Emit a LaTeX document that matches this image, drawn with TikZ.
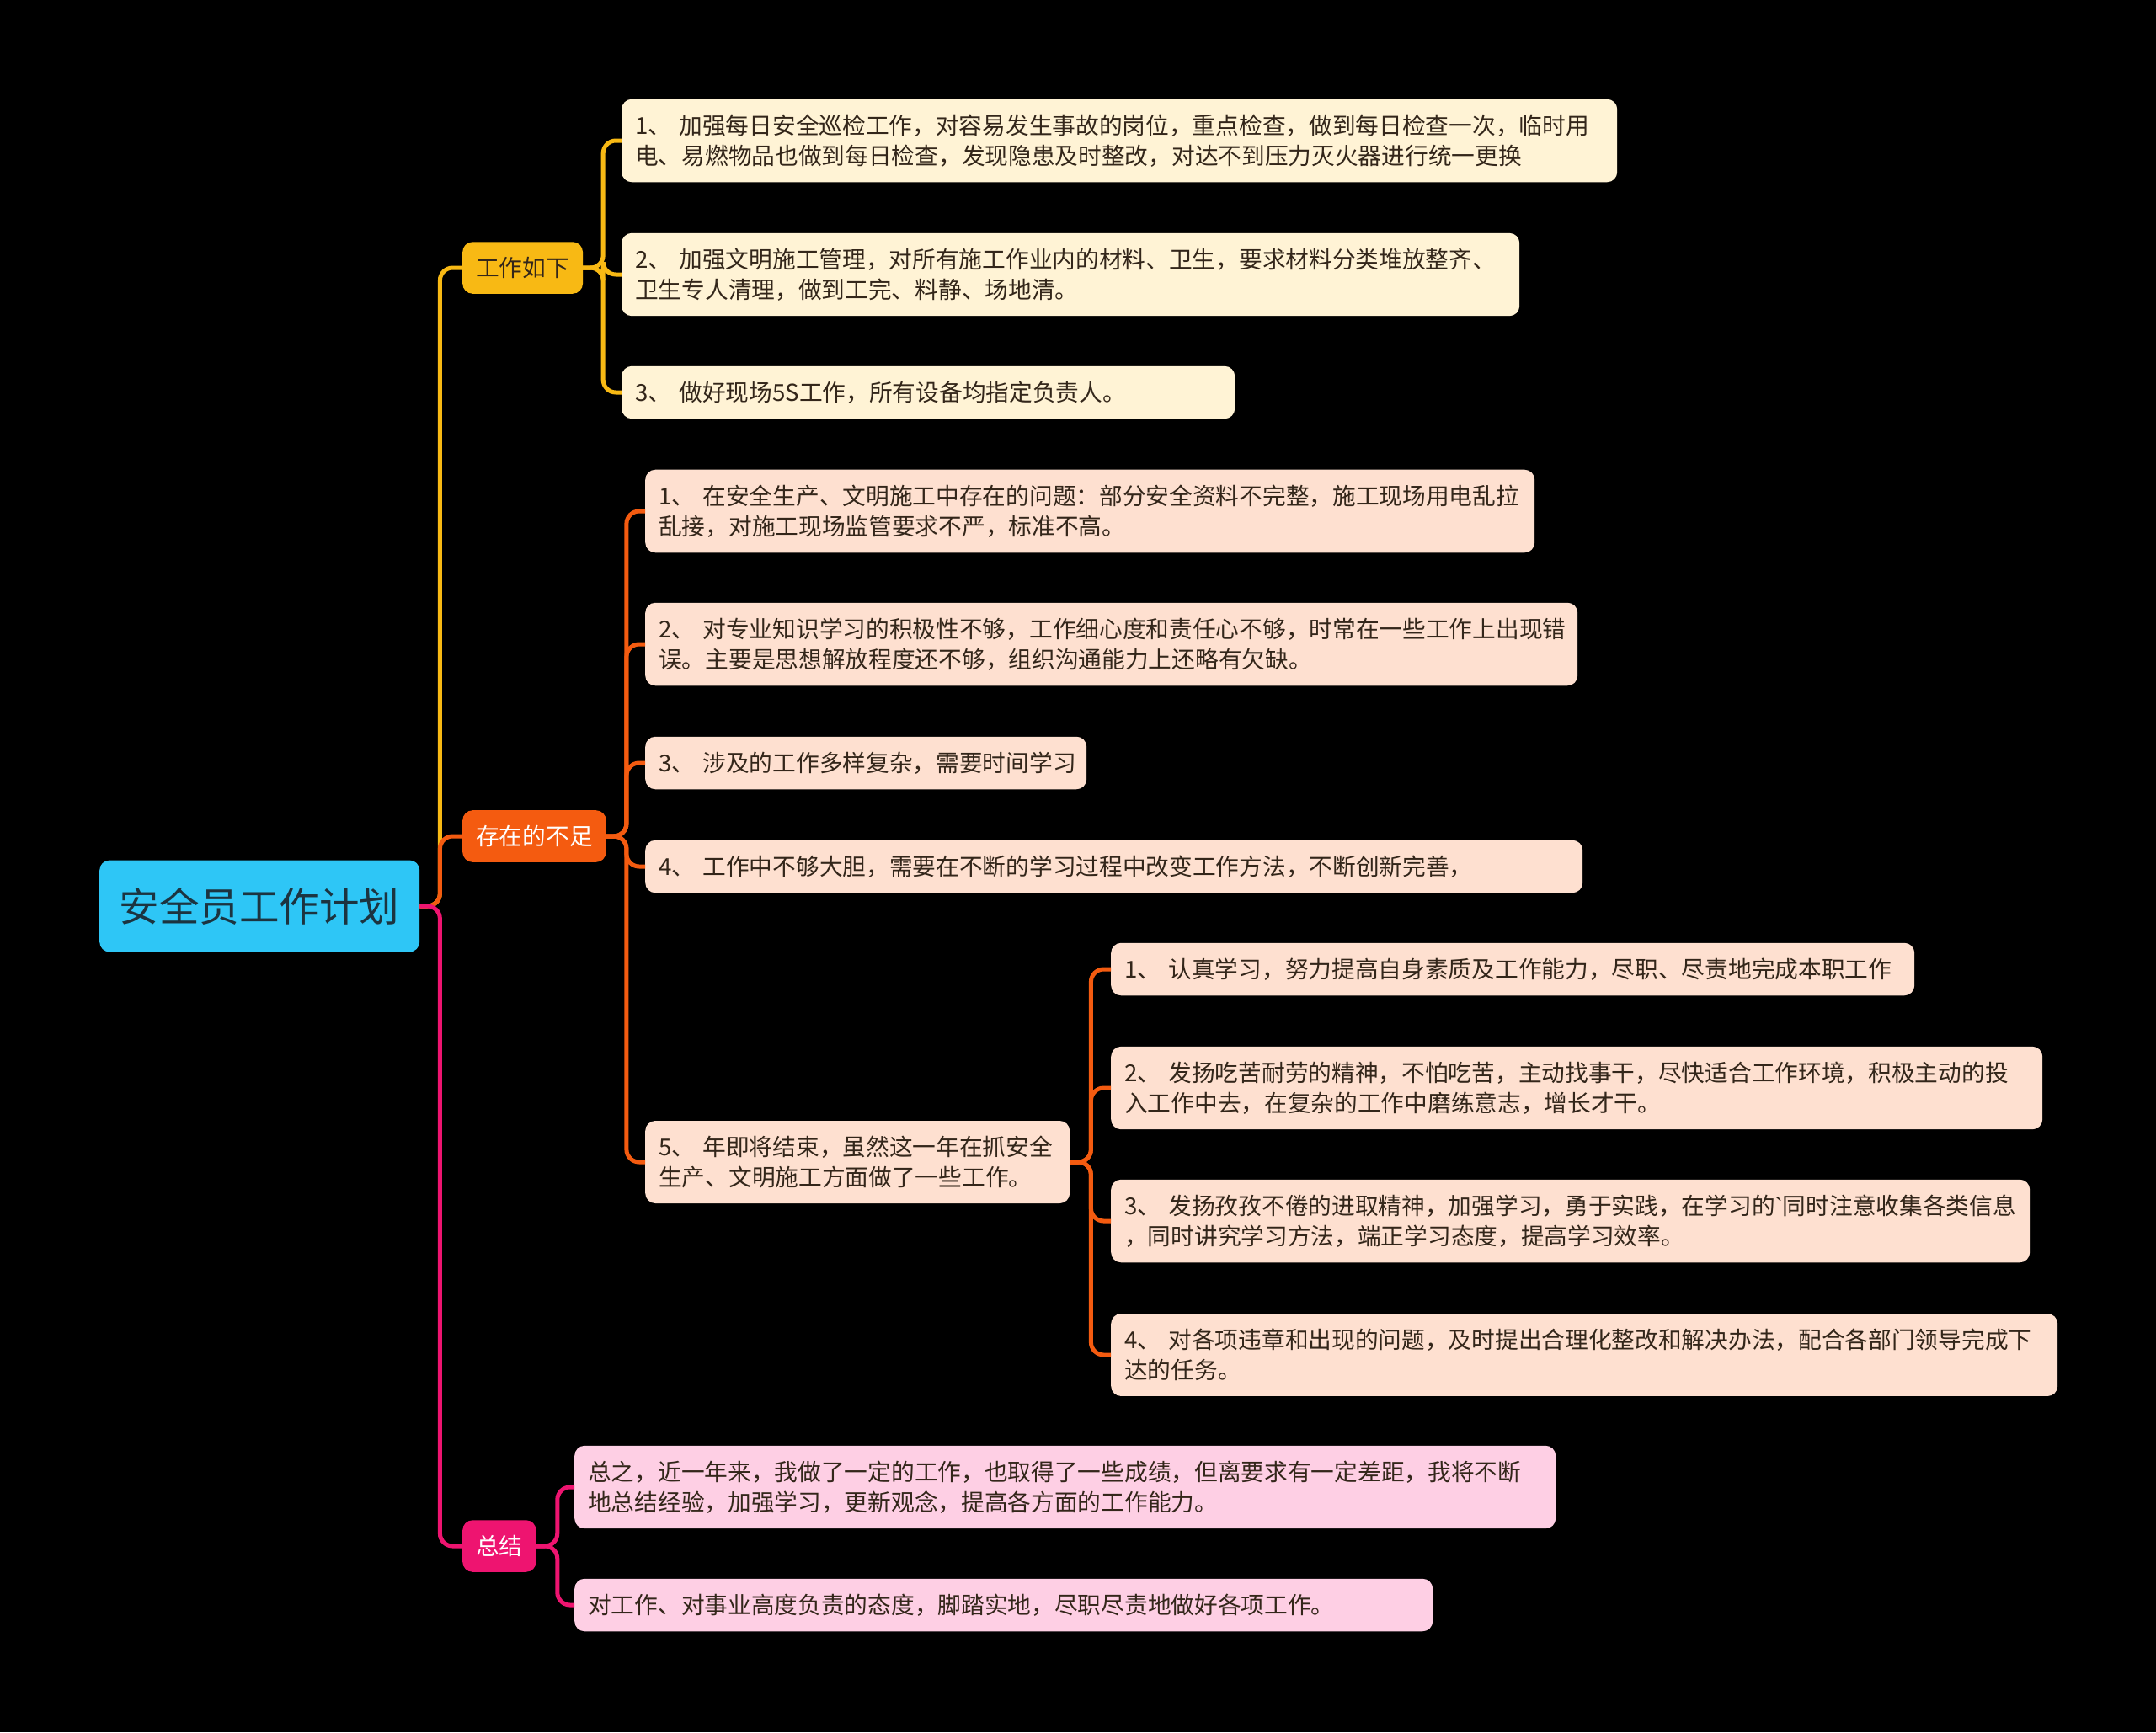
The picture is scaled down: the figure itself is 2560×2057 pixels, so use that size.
\documentclass[tikz,border=0pt]{standalone}
\usepackage{fontspec}
\setmainfont{Noto Sans CJK SC}
\newfontfamily\latinfont{Liberation Sans}
\usetikzlibrary{positioning}

\definecolor{rootcol}{HTML}{2EC6F6}
\definecolor{roottext}{HTML}{1C3440}
\definecolor{workcol}{HTML}{F8B914}
\definecolor{lackcol}{HTML}{F45B10}
\definecolor{summcol}{HTML}{EE1470}
\definecolor{workleaf}{HTML}{FFF3D5}
\definecolor{lackleaf}{HTML}{FEE0D0}
\definecolor{summleaf}{HTML}{FECFE4}
\definecolor{leaftext}{HTML}{33261A}

\newcommand{\leaffont}{\fontsize{27.7}{36}\selectfont}
\newcommand{\headfont}{\fontsize{47.5}{56}\selectfont}

\begin{document}
\begin{tikzpicture}[
  x=1pt, y=-1pt,
  every node/.style={font=\leaffont, inner xsep=16pt, inner ysep=18pt, rounded corners=12pt},
  rootbox/.style={fill=rootcol, text=roottext, font=\headfont, minimum width=380pt, minimum height=109pt, anchor=west},
  topic/.style={minimum height=61pt, anchor=west},
  leaf/.style={align=left, text=leaftext, minimum height=62pt, anchor=west},
  link/.style={line width=5pt, rounded corners=15pt}
]

  % --- background, also fixes the page size ---
  \fill[black] (0,0) rectangle (2560,2057);

  % --- root and its three topics ---
  \node[rootbox] (root) at (118,1076) {安全员工作计划};
  \node[topic, fill=workcol, text=leaftext] (workdo) at (549,318) {工作如下};
  \node[topic, fill=lackcol, text=white] (lack) at (549,993) {存在的不足};
  \node[topic, fill=summcol, text=white] (summ) at (549,1836) {总结};

  % --- 工作如下 ---
  \node[leaf, fill=workleaf, text width=1150pt] (work1) at (738,167)
    {1、~加强每日安全巡检工作，对容易发生事故的岗位，重点检查，做到每日检查一次，临时用\\电、易燃物品也做到每日检查，发现隐患及时整改，对达不到压力灭火器进行统一更换};
  \node[leaf, fill=workleaf, text width=1034pt] (work2) at (738,326)
    {2、~加强文明施工管理，对所有施工作业内的材料、卫生，要求材料分类堆放整齐、\\卫生专人清理，做到工完、料静、场地清。};
  \node[leaf, fill=workleaf, text width=696pt] (work3) at (738,466)
    {3、~做好现场5S工作，所有设备均指定负责人。};

  % --- 存在的不足 ---
  \node[leaf, fill=lackleaf, text width=1024pt] (lack1) at (766,607)
    {1、~在安全生产、文明施工中存在的问题：部分安全资料不完整，施工现场用电乱拉\\乱接，对施工现场监管要求不严，标准不高。};
  \node[leaf, fill=lackleaf, text width=1075pt] (lack2) at (766,765)
    {2、~对专业知识学习的积极性不够，工作细心度和责任心不够，时常在一些工作上出现错\\误。主要是思想解放程度还不够，组织沟通能力上还略有欠缺。};
  \node[leaf, fill=lackleaf, text width=492pt] (lack3) at (766,906)
    {3、~涉及的工作多样复杂，需要时间学习};
  \node[leaf, fill=lackleaf, text width=1081pt] (lack4) at (766,1029)
    {4、~工作中不够大胆，需要在不断的学习过程中改变工作方法，不断创新完善，};
  \node[leaf, fill=lackleaf, text width=472pt] (lack5) at (766,1380)
    {5、~年即将结束，虽然这一年在抓安全\\生产、文明施工方面做了一些工作。};

  % --- under item 5 ---
  \node[leaf, fill=lackleaf, text width=922pt] (plan1) at (1319,1151)
    {1、~认真学习，努力提高自身素质及工作能力，尽职、尽责地完成本职工作};
  \node[leaf, fill=lackleaf, text width=1074pt] (plan2) at (1319,1292)
    {2、~发扬吃苦耐劳的精神，不怕吃苦，主动找事干，尽快适合工作环境，积极主动的投\\入工作中去，在复杂的工作中磨练意志，增长才干。};
  \node[leaf, fill=lackleaf, text width=1059pt] (plan3) at (1319,1450)
    {3、~发扬孜孜不倦的进取精神，加强学习，勇于实践，在学习的{\latinfont\char"60}同时注意收集各类信息\\，同时讲究学习方法，端正学习态度，提高学习效率。};
  \node[leaf, fill=lackleaf, text width=1092pt] (plan4) at (1319,1609)
    {4、~对各项违章和出现的问题，及时提出合理化整改和解决办法，配合各部门领导完成下\\达的任务。};

  % --- 总结 ---
  \node[leaf, fill=summleaf, text width=1133pt] (summ1) at (682,1766)
    {总之，近一年来，我做了一定的工作，也取得了一些成绩，但离要求有一定差距，我将不断\\地总结经验，加强学习，更新观念，提高各方面的工作能力。};
  \node[leaf, fill=summleaf, text width=987pt] (summ2) at (682,1906)
    {对工作、对事业高度负责的态度，脚踏实地，尽职尽责地做好各项工作。};

  % --- connectors ---
  \draw[link, workcol] (root.east) -- ++(24,0) |- (workdo.west);
  \draw[link, lackcol] (root.east) -- ++(24,0) |- (lack.west);
  \draw[link, summcol] (root.east) -- ++(24,0) |- (summ.west);

  \foreach \c in {work1,work2,work3}
    \draw[link, workcol] (workdo.east) -- ++(24,0) |- (\c.west);
  \foreach \c in {lack1,lack2,lack3,lack4,lack5}
    \draw[link, lackcol] (lack.east) -- ++(24,0) |- (\c.west);
  \foreach \c in {plan1,plan2,plan3,plan4}
    \draw[link, lackcol] (lack5.east) -- ++(25,0) |- (\c.west);
  \foreach \c in {summ1,summ2}
    \draw[link, summcol] (summ.east) -- ++(25,0) |- (\c.west);

\end{tikzpicture}
\end{document}
